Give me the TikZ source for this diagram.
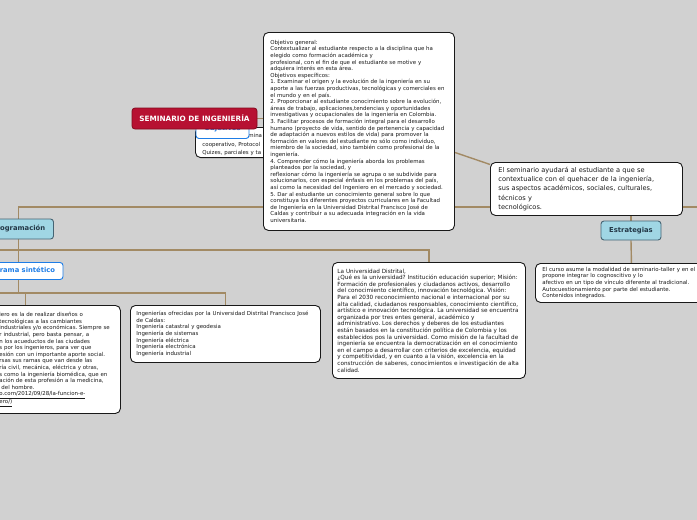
\documentclass[tikz,border=0pt]{standalone}
\usepackage{fontspec}
\setmainfont{DejaVu Sans}
\frenchspacing
\usetikzlibrary{calc}
\definecolor{bgc}{RGB}{209,209,209}
\definecolor{conn}{RGB}{162,138,100}
\definecolor{rootred}{RGB}{183,17,50}
\definecolor{rootedge}{RGB}{130,10,30}
\definecolor{lblue}{RGB}{160,214,228}
\definecolor{lbedge}{RGB}{70,100,115}
\definecolor{lbtext}{RGB}{35,55,70}
\definecolor{objblue}{RGB}{30,125,230}
\definecolor{txt}{RGB}{25,25,25}
\pgfdeclarelayer{bglayer}
\pgfdeclarelayer{edgelayer}
\pgfsetlayers{bglayer,edgelayer,main}
\tikzset{
  boxtext/.style={font=\fontsize{5.45}{6.6}\selectfont, text=txt},
  infobox/.style={draw=black!90, line width=0.9pt, fill=white, rounded corners=5pt,
    align=left, anchor=north west, inner ysep=0pt, boxtext},
  rootnode/.style={fill=rootred, draw=rootedge, line width=0.8pt, rounded corners=3pt,
    text=white, font=\bfseries\fontsize{7.3}{8}\selectfont, inner sep=0pt},
  topicnode/.style={fill=lblue, draw=lbedge, line width=0.9pt, rounded corners=3pt,
    text=lbtext, font=\bfseries\fontsize{6.8}{8}\selectfont, inner sep=0pt},
  subnode/.style={fill=white, draw=objblue, line width=0.9pt, rounded corners=3pt,
    text=objblue, font=\bfseries\fontsize{6.8}{8}\selectfont, inner sep=0pt},
  link/.style={draw=conn, line width=1.4pt}
}
\begin{document}
\begin{tikzpicture}[x=1pt,y=-1pt]
\begin{pgfonlayer}{bglayer}
\fill[bgc] (0,0) rectangle (697,520);
\end{pgfonlayer}
\useasboundingbox (0,0) rectangle (697,520);

% box partly hidden behind Objetivos
\node[infobox, anchor=south west, inner xsep=7pt, inner ysep=2pt, text width=70pt,
  font=\fontsize{5.45}{8.3}\selectfont] (evalbox) at (195,158)
  {\mbox{}\\\hspace*{46pt}mina\\cooperativo, Protocol\\Quizes, parciales y ta};

\node[subnode, minimum width=53pt, minimum height=19pt] (objl) at (222.5,129) {Objetivos};

\node[rootnode, minimum width=125pt, minimum height=21pt] (root) at (194.5,118.5) {SEMINARIO DE INGENIERÍA};

\node[infobox, inner xsep=7pt, text width=177pt, minimum height=198pt] (obj) at (263,32) {%
Objetivo general:\\
Contextualizar al estudiante respecto a la disciplina que ha\\
elegido como formación académica y\\
profesional, con el fin de que el estudiante se motive y\\
adquiera interés en esta área.\\
Objetivos específicos:\\
1. Examinar el origen y la evolución de la ingeniería en su\\
aporte a las fuerzas productivas, tecnológicas y comerciales en\\
el mundo y en el país.\\
2. Proporcionar al estudiante conocimiento sobre la evolución,\\
áreas de trabajo, aplicaciones,tendencias y oportunidades\\
investigativas y ocupacionales de la ingeniería en Colombia.\\
3. Facilitar procesos de formación integral para el desarrollo\\
humano (proyecto de vida, sentido de pertenencia y capacidad\\
de adaptación a nuevos estilos de vida) para promover la\\
formación en valores del estudiante no sólo como individuo,\\
miembro de la sociedad, sino también como profesional de la\\
ingeniería.\\
4. Comprender cómo la ingeniería aborda los problemas\\
planteados por la sociedad, y\\
reflexionar cómo la ingeniería se agrupa o se subdivide para\\
solucionarlos, con especial énfasis en los problemas del país,\\
así como la necesidad del Ingeniero en el mercado y sociedad.\\
5. Dar al estudiante un conocimiento general sobre lo que\\
constituya los diferentes proyectos curriculares en la Facultad\\
de Ingeniería en la Universidad Distrital Francisco José de\\
Caldas y contribuir a su adecuada integración en la vida\\
universitaria.};

\node[infobox, inner xsep=8pt, text width=176pt, minimum height=53pt,
  font=\fontsize{6.6}{9.2}\selectfont] (rbox) at (490,162) {%
El seminario ayudará al estudiante a que se\\
contextualice con el quehacer de la ingeniería,\\
sus aspectos académicos, sociales, culturales,\\
técnicos y\\
tecnológicos.};

\node[topicnode, minimum width=70pt, minimum height=20pt] (prog) at (18.5,229) {Programación};
\node[topicnode, minimum width=60pt, minimum height=19pt] (estr) at (631,230.5) {Estrategias};
\node[subnode, minimum width=89pt, minimum height=17pt] (sint) at (18.5,271) {Programa sintético};

\node[infobox, inner xsep=5pt, text width=183pt, minimum height=116pt,
  font=\fontsize{5.7}{6.6}\selectfont] (udist) at (332,262) {%
La Universidad Distrital,\\
¿Qué es la universidad? Institución educación superior; Misión:\\
Formación de profesionales y ciudadanos activos, desarrollo\\
del conocimiento científico, innovación tecnológica. Visión:\\
Para el 2030 reconocimiento nacional e internacional por su\\
alta calidad, ciudadanos responsables, conocimiento científico,\\
artístico e innovación tecnológica. La universidad se encuentra\\
organizada por tres entes general, académico y\\
administrativo. Los derechos y deberes de los estudiantes\\
están basados en la constitución política de Colombia y los\\
establecidos pos la universidad. Como misión de la facultad de\\
ingeniería se encuentra la democratización en el conocimiento\\
en el campo a desarrollar con criterios de excelencia, equidad\\
y competitividad, y en cuanto a la visión, excelencia en la\\
construcción de saberes, conocimientos e investigación de alta\\
calidad.};

\node[infobox, inner xsep=6pt, text width=178pt, minimum height=57pt] (ing) at (130,305) {%
Ingenierías ofrecidas por la Universidad Distrital Francisco José\\
de Caldas:\\
Ingeniería catastral y geodesia\\
Ingeniería de sistemas\\
Ingeniería eléctrica\\
Ingeniería electrónica\\
Ingeniería industrial};

\node[infobox, inner xsep=7pt, text width=114pt, minimum height=108pt] (func) at (-8,305) {%
iero es la de realizar diseños o\\
tecnológicas a las cambiantes\\
industriales y/o económicas. Siempre se\\
r industrial, pero basta pensar, a\\
n los acueductos de las ciudades\\
s por los ingenieros, para ver que\\
esión con un importante aporte social.\\
rsas sus ramas que van desde las\\
ría civil, mecánica, eléctrica y otras,\\
s como la ingeniería biomédica, que en\\
ación de esta profesión a la medicina,\\
\hspace*{2pt}del hombre.\\
\underline{o.com/2012/09/28/la-funcion-e-}\\
\underline{ero/)}};

\node[infobox, inner xsep=7pt, text width=178pt, minimum height=39pt] (curso) at (535,263) {%
El curso asume la modalidad de seminario-taller y en el\\
propone integrar lo cognoscitivo y lo\\
afectivo en un tipo de vínculo diferente al tradicional.\\
Autocuestionamiento por parte del estudiante.\\
Contenidos integrados.};

\begin{pgfonlayer}{edgelayer}
\coordinate (busR) at (697,207);
\coordinate (w250) at (0,250);
\coordinate (w293) at (0,293);
\draw[link] (prog.north) |- (busR);
\draw[link] (estr.north) -- (estr.north |- busR);
\draw[link] (estr.south) -- (curso.north);
\draw[link] (root.east) -- (root.east -| obj.west);
\draw[link] ([yshift=-21pt]obj.east) -- ([yshift=24.5pt]rbox.west);
\draw[link] (w250) -| (udist.north);
\draw[link] (prog.south) -- (sint.north);
\draw[link] (w293) -| (ing.north);
\draw[link] (sint.south) -- (sint.south |- w293);
\draw[link] ([xshift=-31pt]func.north) -- ([xshift=-31pt]func.north |- w293);
\end{pgfonlayer}
\end{tikzpicture}
\end{document}
